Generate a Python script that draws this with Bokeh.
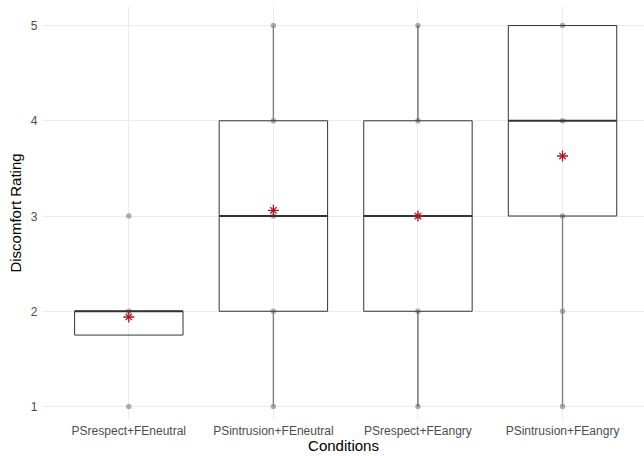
from bokeh.plotting import figure
from bokeh.models import FixedTicker, Range1d
from bokeh.embed import file_html
from bokeh.resources import INLINE

conditions = ["PSrespect+FEneutral", "PSintrusion+FEneutral", "PSrespect+FEangry", "PSintrusion+FEangry"]
q1 = [1.75, 2, 2, 3]
median = [2, 3, 3, 4]
q3 = [2, 4, 4, 5]
whisk_lo = [2, 1, 1, 1]
whisk_hi = [2, 5, 5, 5]
means = [1.94, 3.06, 3.0, 3.63]
# observed rating values per condition (point positions)
pt_cond = [1, 1, 1, 2, 2, 2, 2, 2, 3, 3, 3, 3, 3, 4, 4, 4, 4, 4]
pt_val = [1, 2, 3, 1, 2, 3, 4, 5, 1, 2, 3, 4, 5, 1, 2, 3, 4, 5]
whisker_colors = ["#333333", "#808080", "#3a3a3a", "#808080"]
whisker_widths = [1.0, 1.4, 1.0, 1.4]

xs = [1, 2, 3, 4]

p = figure(width=644, height=456, output_backend="svg", toolbar_location=None,
           x_range=Range1d(0.403, 4.567), y_range=Range1d(0.8635, 5.20),
           min_border_left=42, min_border_right=0, min_border_top=6, min_border_bottom=31)
p.outline_line_color = None
p.background_fill_color = "white"

# grid
p.xgrid.ticker = FixedTicker(ticks=xs)
p.ygrid.ticker = FixedTicker(ticks=[1, 2, 3, 4, 5])
p.xgrid.grid_line_color = "#EBEBEB"
p.ygrid.grid_line_color = "#EBEBEB"
p.xgrid.grid_line_width = 1
p.ygrid.grid_line_width = 1

# points
p.scatter(x=pt_cond, y=pt_val, size=5.5, fill_color="#8c8c8c", line_color=None, fill_alpha=0.7)

# whiskers
for i in range(4):
    if whisk_hi[i] > q3[i]:
        p.segment(x0=[xs[i]], y0=[q3[i]], x1=[xs[i]], y1=[whisk_hi[i]],
                  line_color=whisker_colors[i], line_width=whisker_widths[i])
    if whisk_lo[i] < q1[i]:
        p.segment(x0=[xs[i]], y0=[whisk_lo[i]], x1=[xs[i]], y1=[q1[i]],
                  line_color=whisker_colors[i], line_width=whisker_widths[i])

# boxes
p.quad(left=[x - 0.375 for x in xs], right=[x + 0.375 for x in xs], bottom=q1, top=q3,
       fill_color="white", fill_alpha=0, line_color="#333333", line_width=1)
p.segment(x0=[x - 0.375 for x in xs], y0=median, x1=[x + 0.375 for x in xs], y1=median,
          line_color="#333333", line_width=2)

# means
p.scatter(x=xs, y=means, marker="cross", size=11, line_color="#B0141A", line_width=1.3)
p.scatter(x=xs, y=means, marker="x", size=9, line_color="#B0141A", line_width=1.3)

# axes
p.xaxis.ticker = FixedTicker(ticks=xs)
p.xaxis.major_label_overrides = {i + 1: c for i, c in enumerate(conditions)}
p.yaxis.ticker = FixedTicker(ticks=[1, 2, 3, 4, 5])
for ax in (p.xaxis[0], p.yaxis[0]):
    ax.axis_line_color = None
    ax.major_tick_line_color = None
    ax.minor_tick_line_color = None
    ax.major_tick_out = 0
    ax.major_tick_in = 0
    ax.major_label_text_color = "#4D4D4D"
    ax.major_label_text_font = "Liberation Sans"
    ax.major_label_text_font_size = "12px"
    ax.axis_label_text_font = "Liberation Sans"
    ax.axis_label_text_font_size = "15px"
    ax.axis_label_text_font_style = "normal"
    ax.axis_label_text_color = "black"
p.xaxis.axis_label = "Conditions"
p.yaxis.axis_label = "Discomfort Rating"
p.xaxis.major_label_standoff = 4
p.xaxis.axis_label_standoff = -4
p.xaxis.axis_label_text_line_height = 0.9
p.yaxis.major_label_standoff = 5
p.yaxis.axis_label_standoff = 4

open("out.html", "w").write(file_html(p, INLINE))
